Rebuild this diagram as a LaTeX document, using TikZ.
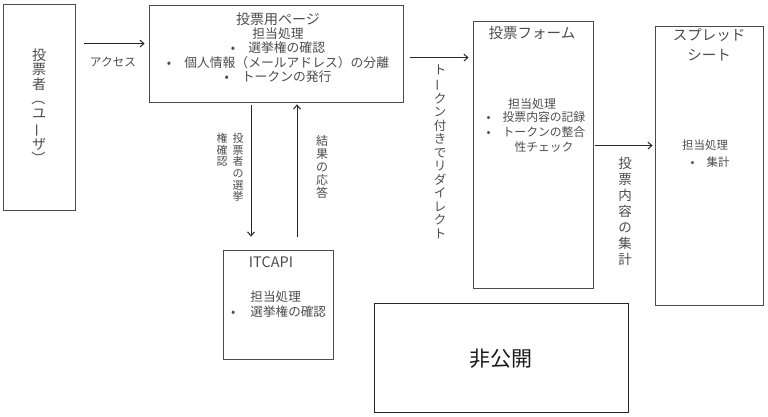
\documentclass[tikz,border=0pt]{standalone}
\usepackage{fontspec}
\usepackage{graphicx}
\setmainfont{Noto Sans CJK JP}
\usetikzlibrary{positioning,calc,arrows.meta}
% vertical forms for the stacked labels
\newcommand{\choon}{\rotatebox[origin=c]{90}{ー}}
\newcommand{\vlparen}{\rotatebox[origin=c]{-90}{（}}
\newcommand{\vrparen}{\rotatebox[origin=c]{-90}{）}}

\begin{document}
\begin{tikzpicture}[x=1pt,y=1pt]
    % `box' is used for the frames, `txt' for the texts in them.
    % `vtxt' is used for the labels written top to bottom.
    % `arrow' is used for the connectors.
    \tikzstyle{box} = [draw=black!70,line width=0.8pt,inner sep=0pt]
    \tikzstyle{txt} = [text=black!70,inner sep=0pt,align=center,font=\fontsize{12.8pt}{14.2pt}\selectfont]
    \tikzstyle{vtxt} = [text=black!70,inner sep=0pt,align=center,anchor=north,font=\fontsize{12.5pt}{13.5pt}\selectfont]
    \tikzstyle{arrow} = [-{Straight Barb[length=4pt,width=7pt]},line width=1pt,draw=black!85]
    \useasboundingbox (0,0) rectangle (768,417);
    %
    \node[box,minimum width=72,minimum height=206] (voter) at (39,310) {};
    \node[box,minimum width=254,minimum height=97] (page) at (276,363.5) {};
    \node[box,minimum width=110,minimum height=109] (itc) at (278,112.5) {};
    \node[box,minimum width=120,minimum height=267] (form) at (533,262.5) {};
    \node[box,minimum width=108,minimum height=279] (sheet) at (709,251.5) {};
    \node[box,draw=black!85,line width=1pt,minimum width=254,minimum height=109] (hidden) at (501,58.5) {};
    %
    % Texts in the frames.
    \node[vtxt,anchor=center,font=\fontsize{14pt}{14.6pt}\selectfont] (voterText) at (voter)
      {投\\票\\者\\\vlparen\\ユ\\\choon\\ザ\\\vrparen};
    \node[txt,anchor=north] (pageText) at ([xshift=2,yshift=-8]page.north)
      {{\fontsize{14pt}{14pt}\selectfont 投票用ページ}\\
       担当処理\\
       •\hspace{13pt}選挙権の確認\\
       •\hspace{13pt}個人情報（メールアドレス）の分離\\
       •\hspace{13pt}トークンの発行};
    \node[txt,font=\fontsize{14.5pt}{14.5pt}\selectfont] (itcTitle) at ([xshift=-7,yshift=-13]itc.north) {ITCAPI};
    \node[txt,align=left,anchor=west,font=\fontsize{12.6pt}{15pt}\selectfont] (itcText) at (231,112.5)
      {\phantom{•}\hspace{15pt}担当処理\\
       •\hspace{15pt}選挙権の確認};
    \node[txt,font=\fontsize{14.5pt}{14.5pt}\selectfont] (formTitle) at ([xshift=-1,yshift=-12]form.north) {投票フォーム};
    \node[txt,font=\fontsize{12pt}{15pt}\selectfont] (formHead) at (532,313) {担当処理};
    \node[txt,font=\fontsize{11.8pt}{15pt}\selectfont] (formText) at (544,285)
      {\llap{•\hspace{12pt}}投票内容の記録\\
       \llap{•\hspace{12pt}}トークンの整合\\
       性チェック};
    \node[txt,font=\fontsize{14.5pt}{20pt}\selectfont] (sheetTitle) at (709,372) {スプレッド\\シート};
    \node[txt,font=\fontsize{11.5pt}{15pt}\selectfont] (sheetHead) at (705,272) {担当処理};
    \node[txt,font=\fontsize{11.5pt}{15pt}\selectfont] (sheetText) at (718,255) {\llap{•\hspace{12pt}}集計};
    \node[txt,text=black!90,font=\fontsize{21pt}{21pt}\selectfont] (hiddenText) at (hidden) {非公開};
    %
    % Connectors.
    \draw[arrow] ([shift={(9,-40)}]voter.north east) -- ([shift={(-4,-39)}]page.north west);
    \draw[arrow] ([shift={(7,-53)}]page.north east) -- ([shift={(-4,-37)}]form.north west);
    \draw[arrow] ([shift={(-25,-3)}]page.south) -- ([shift={(-27,13)}]itc.north);
    \draw[arrow] ([shift={(19,13)}]itc.north) -- ([shift={(21,-2)}]page.south);
    \draw[arrow] ([shift={(2,-125)}]form.north east) -- ([shift={(-2,-120)}]sheet.north west);
    %
    % Labels of the connectors.
    \node[txt,font=\fontsize{11.7pt}{14pt}\selectfont] (accessLabel) at (113,355) {アクセス};
    \node[vtxt] (redirectLabel) at (440,352)
      {ト\\\choon\\ク\\ン\\付\\き\\で\\リ\\ダ\\イ\\レ\\ク\\ト};
    \node[vtxt,font=\fontsize{11pt}{11.7pt}\selectfont] (checkLabel) at (238,284)
      {投\\票\\者\\の\\選\\挙};
    \node[vtxt,font=\fontsize{11pt}{11.7pt}\selectfont] (checkLabelB) at (222,284)
      {権\\確\\認};
    \node[vtxt,font=\fontsize{12pt}{13pt}\selectfont] (replyLabel) at (322,282)
      {結\\果\\の\\応\\答};
    \node[vtxt,font=\fontsize{13.5pt}{16pt}\selectfont] (tallyLabel) at (625,260)
      {投\\票\\内\\容\\の\\集\\計};
\end{tikzpicture}
\end{document}
